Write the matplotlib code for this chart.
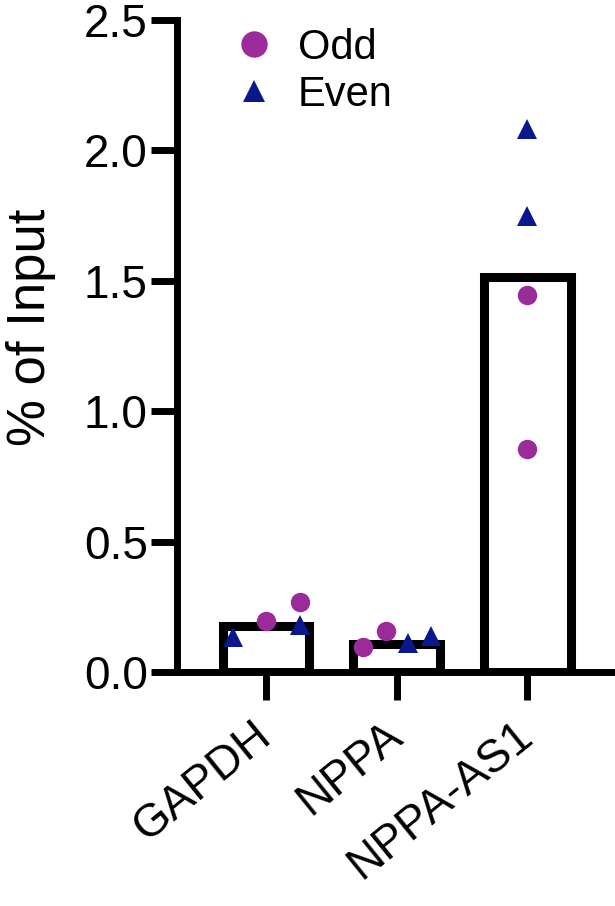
import numpy as np
import matplotlib
matplotlib.use('Agg')
import matplotlib.pyplot as plt
from matplotlib.lines import Line2D

# ---- data ----
categories = ['GAPDH', 'NPPA', 'NPPA-AS1']
series_labels = ['Odd', 'Even']
odd_values = [[0.194, 0.268], [0.096, 0.157], [1.447, 0.856]]
odd_offsets = [[0.0, 0.258], [-0.256, -0.084], [0.0, 0.0]]
even_values = [[0.135, 0.181], [0.110, 0.138], [2.083, 1.748]]
even_offsets = [[-0.256, 0.26], [0.084, 0.262], [0.0, 0.0]]
yticks = [0.0, 0.5, 1.0, 1.5, 2.0, 2.5]
ytick_labels = ['0.0', '0.5', '1.0', '1.5', '2.0', '2.5']

ODD_COLOR = '#9B2A9B'
EVEN_COLOR = '#0A188E'

plt.rcParams['font.family'] = ['Liberation Sans', 'DejaVu Sans']

W, H = 615, 906
fig = plt.figure(figsize=(W / 100, H / 100), dpi=100)
ax = fig.add_axes([177 / W, (H - 672) / H, (614 - 177) / W, (672 - 20) / H])
xmin, xmax = -0.681, 2.663
ax.set_xlim(xmin, xmax)
ax.set_ylim(0, 2.5)

x = np.arange(len(categories))
means = np.array([np.mean(o + e) for o, e in zip(odd_values, even_values)])

# bars with border drawn inside the bar outline
bar_lw_pt = 6.5
lw_px = bar_lw_pt * fig.dpi / 72
px_per_x = ax.bbox.width / (xmax - xmin)
px_per_y = ax.bbox.height / 2.5
outer_width = 0.732
inset_x = lw_px / 2 / px_per_x
inset_y = lw_px / 2 / px_per_y
ax.bar(x, means - inset_y, width=outer_width - 2 * inset_x, bottom=0,
       facecolor='white', edgecolor='black', linewidth=bar_lw_pt,
       joinstyle='miter', zorder=2)

for i in range(len(categories)):
    ax.plot(x[i] + np.array(odd_offsets[i]), odd_values[i], 'o', ms=14,
            color=ODD_COLOR, mew=0, zorder=3, clip_on=False)
    ax.plot(x[i] + np.array(even_offsets[i]), even_values[i], '^', ms=14,
            color=EVEN_COLOR, mew=0, zorder=3, clip_on=False)

# axes styling
for s in ['top', 'right']:
    ax.spines[s].set_visible(False)
for s in ['left', 'bottom']:
    ax.spines[s].set_linewidth(5)
    ax.spines[s].set_capstyle('projecting')
    ax.spines[s].set_zorder(4)

ax.set_yticks(yticks)
ax.set_yticklabels(ytick_labels)
ax.set_xticks(x)
ax.set_xticklabels(categories, rotation=39, ha='right', va='center',
                   rotation_mode='anchor')
ax.tick_params(axis='y', length=19, width=5, pad=2, labelsize=33)
ax.tick_params(axis='x', length=20, width=5, pad=22, labelsize=33)

ax.set_ylabel('% of Input', fontsize=38)
ax.yaxis.set_label_coords(-0.277, 0.528)

handles = [
    Line2D([], [], marker='o', ls='none', ms=19, color=ODD_COLOR, mew=0),
    Line2D([], [], marker='^', ls='none', ms=16, color=EVEN_COLOR, mew=0),
]
ax.legend(handles, series_labels, loc='upper left',
          bbox_to_anchor=(0.128, 0.988), frameon=False, fontsize=30,
          handlelength=1.0, handletextpad=0.56, labelspacing=0.165,
          borderpad=0, borderaxespad=0)

fig.savefig('out.png', dpi=100)
